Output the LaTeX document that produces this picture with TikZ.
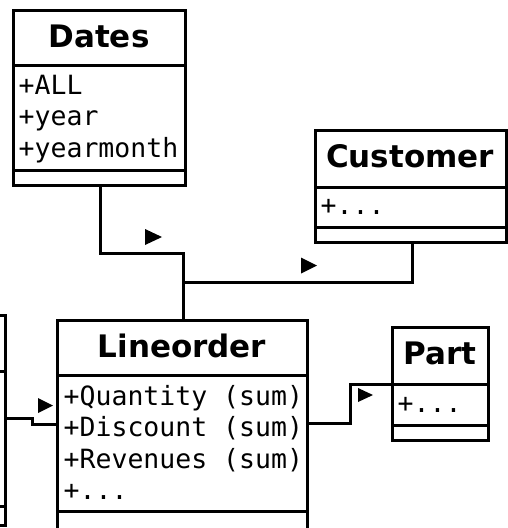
\documentclass[tikz,border=0pt]{standalone}
\usepackage{fontspec}
\newfontfamily\umltitlefont{DejaVu Sans}
\newfontfamily\umlmonofont{DejaVu Sans Mono}
\begin{document}
\begin{tikzpicture}[x=1pt,y=-1pt,
  cell/.style={draw=black, line width=3pt, outer sep=0pt, inner sep=0pt,
               anchor=north west, fill=white},
  classname/.style={anchor=base, inner sep=0pt,
                    font=\umltitlefont\bfseries\fontsize{31}{31}\selectfont},
  attr/.style={anchor=base west, inner sep=0pt,
               font=\umlmonofont\fontsize{26.5}{31.5}\selectfont},
  link/.style={line width=3pt, line join=miter},
  navtip/.style={fill=black}
]
\path[use as bounding box] (0,0) rectangle (508,528);

% ---------- Dates ----------
\node[cell, minimum width=172, minimum height=55.5] (datesT) at (13,10) {};
\node[cell, minimum width=172, minimum height=105] (datesA) at (13,65.5) {};
\node[cell, minimum width=172, minimum height=14.5] (datesM) at (13,170.5) {};
\node[classname] (datesN) at (99,47) {Dates};
\node[attr] (datesA1) at (18.5,94) {+ALL};
\node[attr] (datesA2) at (18.5,125.5) {+year};
\node[attr] (datesA3) at (18.5,157) {+yearmonth};

% ---------- Customer ----------
\node[cell, minimum width=191, minimum height=57] (custT) at (315,130) {};
\node[cell, minimum width=191, minimum height=40] (custA) at (315,187) {};
\node[cell, minimum width=191, minimum height=15] (custM) at (315,227) {};
\node[classname] (custN) at (410,167) {Customer};
\node[attr] (custA1) at (320.5,214) {+...};

% ---------- Lineorder ----------
\node[cell, minimum width=250, minimum height=55] (lineT) at (57,320) {};
\node[cell, minimum width=250, minimum height=136] (lineA) at (57,375) {};
\node[cell, minimum width=250, minimum height=19] (lineM) at (57,511) {};
\node[classname] (lineN) at (182,357) {Lineorder};
\node[attr] (lineA1) at (63.5,405) {+Quantity (sum)};
\node[attr] (lineA2) at (63.5,436.5) {+Discount (sum)};
\node[attr] (lineA3) at (63.5,468) {+Revenues (sum)};
\node[attr] (lineA4) at (63.5,499.5) {+...};

% ---------- Part ----------
\node[cell, minimum width=96, minimum height=57] (partT) at (392,327) {};
\node[cell, minimum width=96, minimum height=41] (partA) at (392,384) {};
\node[cell, minimum width=96, minimum height=15] (partM) at (392,425) {};
\node[classname] (partN) at (440,364) {Part};
\node[attr] (partA1) at (397.5,412) {+...};

% ---------- class cut off at the left edge ----------
\node[cell, minimum width=160, minimum height=56] (leftT) at (-154.5,315) {};
\node[cell, minimum width=160, minimum height=135] (leftA) at (-154.5,371) {};
\node[cell, minimum width=160, minimum height=19] (leftM) at (-154.5,506) {};

% ---------- associations ----------
\coordinate (joint) at (183,253);
\draw[link] (datesM.south west) ++(87,0) |- (joint) -- (joint |- lineT.north);
\draw[link] (custM.south west) ++(97,0) |- (183,282);
\draw[link] (lineA.north east) ++(0,48.5) -- ++(43,0) |- (partA.north west);
\draw[link] (leftA.north east) ++(0,47.5) -- ++(26.5,0) -- ++(0,6) -- (lineA.north west |- 0,424.5);

% ---------- navigation arrowheads ----------
\fill[navtip] (145,229) -- (162,237) -- (145,245) -- cycle;
\fill[navtip] (301,257.5) -- (317,265.5) -- (301,273.5) -- cycle;
\fill[navtip] (358,388) -- (373,395) -- (358,402) -- cycle;
\fill[navtip] (38,398) -- (53,405.5) -- (38,413) -- cycle;
\end{tikzpicture}
\end{document}
